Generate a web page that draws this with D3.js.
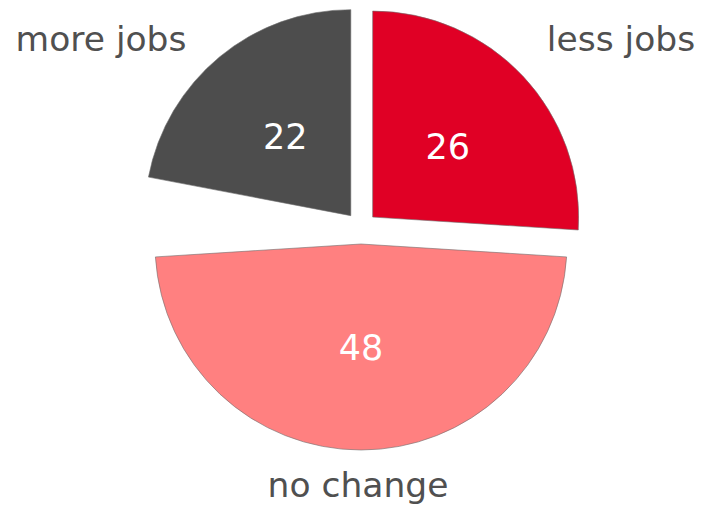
<!DOCTYPE html>
<html>
<head>
<meta charset="utf-8">
<script src="https://cdn.jsdelivr.net/npm/d3@7"></script>
<style>
  html, body { margin: 0; padding: 0; background: #fff; }
  svg { display: block; font-family: "DejaVu Sans", Verdana, sans-serif; }
</style>
</head>
<body>
<div id="chart"></div>
<script>
const categories = ["less jobs", "no change", "", "more jobs"]
const values = [26, 48, 4, 22]
const colors = ["#e00025", "#ff8080", "none", "#4d4d4d"]

const width = 702, height = 507
const cx = 361, cy = 228
const radius = 206
const explode = 16

const data = categories.map((c, i) => ({category: c, value: values[i], color: colors[i]}))

const svg = d3.create("svg")
    .attr("width", width)
    .attr("height", height)
    .attr("viewBox", [0, 0, width, height])

d3.select("#chart").append(() => svg.node())

const pie = d3.pie()
    .sort(null)
    .value(d => d.value)

const arc = d3.arc()
    .innerRadius(0)
    .outerRadius(radius)

const arcs = pie(data).filter(d => d.data.category !== "")

const offset = d => {
  const mid = (d.startAngle + d.endAngle) / 2
  return [Math.sin(mid) * explode, -Math.cos(mid) * explode]
}

const slices = svg.append("g")
    .attr("transform", `translate(${cx},${cy})`)
  .selectAll("g")
  .data(arcs)
  .join("g")
    .attr("transform", d => `translate(${offset(d)})`)

slices.append("path")
    .attr("d", arc)
    .attr("fill", d => d.data.color)
    .attr("stroke", "#6e6e6e")
    .attr("stroke-width", 0.6)

// values in the middle of each slice
slices.append("text")
    .attr("transform", d => `translate(${arc.centroid(d)})`)
    .attr("dy", "0.36em")
    .attr("text-anchor", "middle")
    .attr("font-size", "35px")
    .attr("fill", "#fff")
    .text(d => d.data.value)

// category labels outside
const labelPos = d => {
  const mid = (d.startAngle + d.endAngle) / 2
  if (Math.abs(Math.cos(mid)) > 0.9 && Math.cos(mid) < 0) {
    return [cx - 3, cy + radius + explode + 47]
  }
  return [cx + Math.sign(Math.sin(mid)) * 260, cy - 177]
}

svg.append("g")
  .selectAll("text")
  .data(arcs)
  .join("text")
    .attr("x", d => labelPos(d)[0])
    .attr("y", d => labelPos(d)[1])
    .attr("text-anchor", "middle")
    .attr("font-size", "34.5px")
    .attr("fill", "#505050")
    .text(d => d.data.category)
</script>
</body>
</html>
